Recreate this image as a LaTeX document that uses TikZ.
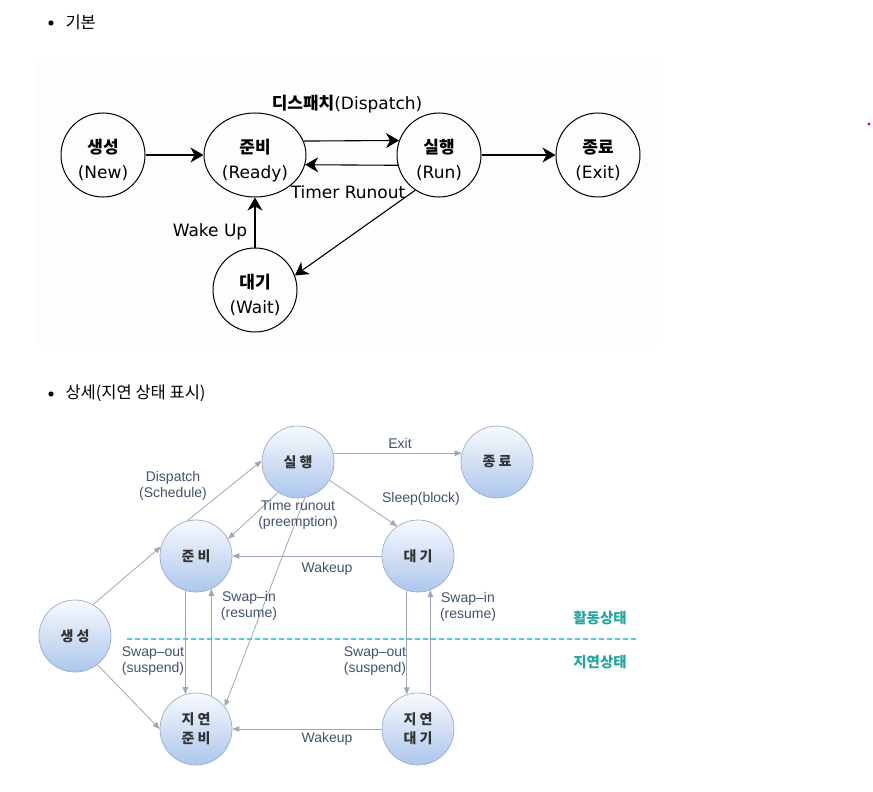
\documentclass[tikz,border=0pt]{standalone}
\usepackage{fontspec}
\setmainfont{DejaVu Sans}
\newfontfamily\krfont{Noto Sans CJK KR}
\newfontfamily\lblfont{Liberation Sans}
\usetikzlibrary{arrows.meta,shapes.geometric}
\definecolor{edgegray}{RGB}{158,168,184}
\definecolor{lbltext}{RGB}{62,82,112}
\definecolor{nodeline}{RGB}{150,172,205}
\definecolor{nodetop}{RGB}{248,250,254}
\definecolor{nodebot}{RGB}{172,198,236}
\definecolor{zoneteal}{RGB}{32,165,160}
\definecolor{zonedash}{RGB}{85,205,210}
\definecolor{panelbg}{RGB}{253,253,253}

\begin{document}
\begin{tikzpicture}[x=1pt, y=-1pt,
  tstate/.style={circle, draw, line width=1pt, minimum size=84pt, inner sep=0pt, align=center, font=\fontsize{17}{25}\selectfont, text height=50pt},
  tarrow/.style={line width=1.1pt, -{Stealth[length=13pt,width=15pt,inset=4pt]}},
  tlabel/.style={font=\fontsize{17}{25}\selectfont},
  bstate/.style={circle, draw=nodeline, line width=0.7pt, top color=nodetop, bottom color=nodebot, minimum size=72pt, inner sep=0pt, align=center, text=black!80, font=\krfont\bfseries\fontsize{14}{19}\selectfont},
  barrow/.style={draw=edgegray, line width=0.8pt, -{Triangle[length=7pt,width=5.5pt]}},
  blabel/.style={font=\lblfont\fontsize{14}{16.5}\selectfont, text=lbltext, align=center},
  bullet/.style={font=\krfont\fontsize{16.5}{20}\selectfont, anchor=west},
  zone/.style={font=\krfont\bfseries\fontsize{14.5}{17}\selectfont, text=zoneteal}]
  \useasboundingbox (0,0) rectangle (873,792);
  \fill[panelbg] (37,57) rectangle (658,345);

  % 글머리
  \fill (51,23) circle (2.6);
  \node[bullet] (t1) at (62,22) {기본};
  \fill (51,394) circle (2.6);
  \node[bullet] (t2) at (62,393) {상세(지연 상태 표시)};
  \fill[red] (869,124) circle (1.6);

  % 기본 상태도
  \node[tstate] (new) at (103,155) {{\krfont\bfseries 생성}\\(New)};
  \node[tstate, ellipse, minimum width=102pt, minimum height=84pt] (ready) at (255,155) {{\krfont\bfseries 준비}\\(Ready)};
  \node[tstate] (run) at (439,155) {{\krfont\bfseries 실행}\\(Run)};
  \node[tstate] (exit) at (598,155) {{\krfont\bfseries 종료}\\(Exit)};
  \node[tstate] (wait) at (255,290) {{\krfont\bfseries 대기}\\(Wait)};

  \draw[tarrow] (new) -- (ready);
  \draw[tarrow] (ready.16) -- (run.160);
  \draw[tarrow] (run.194) -- (ready.-11);
  \draw[tarrow] (run) -- (exit);
  \draw[tarrow] (wait) -- (ready);
  \draw[tarrow] (run.236) -- (wait.20);

  \node[tlabel] (dlbl) at (347,104) {{\krfont\bfseries 디스패치}(Dispatch)};
  \node[tlabel] (tlbl) at (348,192) {Timer Runout};
  \node[tlabel] (wlbl) at (210,232) {Wake Up};

  % 상세 상태도
  \node[bstate] (brun) at (298,462) {실 행};
  \node[bstate] (bready) at (196,556) {준 비};
  \node[bstate] (bnew) at (75,636) {생 성};
  \node[bstate] (bsready) at (196,729) {지 연\\준 비};
  \node[bstate] (bexit) at (497,462) {종 료};
  \node[bstate] (bwait) at (418,556) {대 기};
  \node[bstate] (bswait) at (418,729) {지 연\\대 기};

  \draw[barrow] (brun.14) -- (bexit.166);
  \draw[barrow] (brun.-30) -- (bwait.125);
  \draw[barrow] (bready.104) -- (brun.178);
  \draw[barrow] (brun.-123) -- (bready.28);
  \draw[barrow] (brun.-79) -- (bsready.38);
  \draw[barrow] (bwait) -- (bready);
  \draw[barrow] (bready.-107) -- (bsready.107);
  \draw[barrow] (bsready.65) -- (bready.-65);
  \draw[barrow] (bnew.60) -- (bready.165);
  \draw[barrow] (bnew.-52) -- (bsready.180);
  \draw[barrow] (bswait) -- (bsready);
  \draw[barrow] (bwait.-108) -- (bswait.108);
  \draw[barrow] (bswait.70) -- (bwait.-70);

  \node[blabel] (lexit) at (400,443) {Exit};
  \node[blabel] (lsleep) at (421,499) {Sleep(block)};
  \node[blabel] (ldisp) at (173,486) {Dispatch\\(Schedule)};
  \node[blabel] (ltime) at (298,515) {Time runout\\(preemption)};
  \node[blabel] (lwake1) at (327,569) {Wakeup};
  \node[blabel] (lwake2) at (327,739) {Wakeup};
  \node[blabel] (lout1) at (153,661) {Swap–out\\(suspend)};
  \node[blabel] (lin1) at (249,606) {Swap–in\\(resume)};
  \node[blabel] (lout2) at (375,661) {Swap–out\\(suspend)};
  \node[blabel] (lin2) at (468,607) {Swap–in\\(resume)};

  % 활동/지연 구분
  \draw[draw=zonedash, line width=1.2pt, dash pattern=on 5pt off 3pt] (127,639) -- (638,639);
  \node[zone] (act) at (600,618) {활동상태};
  \node[zone] (sus) at (600,662) {지연상태};
\end{tikzpicture}
\end{document}
